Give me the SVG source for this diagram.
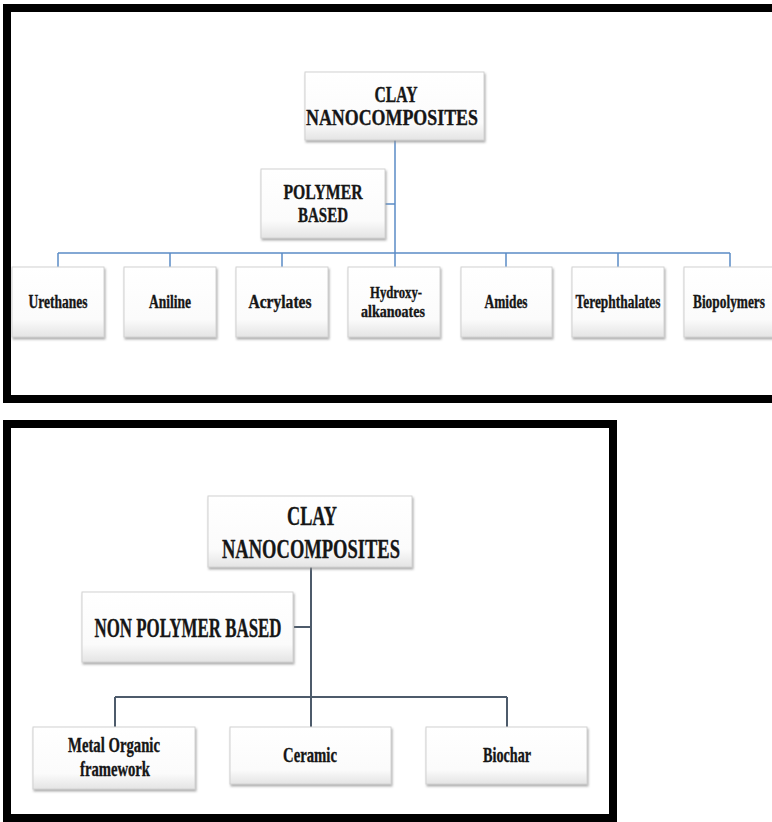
<svg xmlns="http://www.w3.org/2000/svg" width="772" height="822" viewBox="0 0 772 822">
  <defs>
    <linearGradient id="boxg" x1="0" y1="0" x2="0" y2="1">
      <stop offset="0" stop-color="#ffffff"/>
      <stop offset="0.75" stop-color="#fbfbfb"/>
      <stop offset="1" stop-color="#e4e4e4"/>
    </linearGradient>
    <filter id="sh" x="-10%" y="-10%" width="125%" height="130%">
      <feDropShadow dx="1" dy="2" stdDeviation="1" flood-color="#8a8a8a" flood-opacity="0.7"/>
    </filter>
  </defs>
  <style>
    .frame { fill: #ffffff; stroke: #000000; stroke-width: 8; }
    .box { fill: url(#boxg); stroke: #d2d2d2; stroke-width: 1; filter: url(#sh); }
    .t { font-family: "Liberation Serif", "Times New Roman", serif; font-weight: bold; fill: #161616; stroke: #161616; stroke-width: 0.35; text-anchor: middle; }
    .big { font-size: 23px; }
    .big2 { font-size: 27px; }
    .mid { font-size: 21px; }
    .sm { font-size: 18px; }
    .xs { font-size: 17px; }
    .sm2 { font-size: 21px; }
    .c1 { stroke: #5b8cc6; stroke-width: 1.5; fill: none; }
    .c2 { stroke: #4d5b6b; stroke-width: 2; fill: none; }
  </style>
  <rect x="0" y="0" width="772" height="822" fill="#ffffff"/>

  <!-- Frames -->
  <rect class="frame" x="7" y="8" width="800" height="391"/>
  <rect class="frame" x="7" y="424" width="606" height="394"/>

  <!-- Connectors -->
  <g id="connectors">
    <path class="c1" d="M395 140 V267 M385 204 H395 M58 253 H730 M58 253 V267 M170 253 V267 M282 253 V267 M506 253 V267 M618 253 V267 M730 253 V267"/>
    <path class="c2" d="M311 567 V727 M294 627 H311 M115 697 H507 M115 697 V727 M507 697 V727"/>
  </g>

  <!-- Top diagram -->
  <g id="clay1">
    <rect class="box" x="305" y="72" width="179" height="68"/>
    <text class="t big" x="396" y="102" textLength="43" lengthAdjust="spacingAndGlyphs">CLAY</text>
    <text class="t big" x="392" y="125" textLength="172" lengthAdjust="spacingAndGlyphs">NANOCOMPOSITES</text>
  </g>
  <g id="polymer">
    <rect class="box" x="261" y="169" width="124" height="69"/>
    <text class="t mid" x="323" y="199" textLength="79" lengthAdjust="spacingAndGlyphs">POLYMER</text>
    <text class="t mid" x="323" y="222" textLength="50" lengthAdjust="spacingAndGlyphs">BASED</text>
  </g>
  <g id="urethanes">
    <rect class="box" x="12" y="267" width="92" height="70"/>
    <text class="t sm" x="58" y="308" textLength="59" lengthAdjust="spacingAndGlyphs">Urethanes</text>
  </g>
  <g id="aniline">
    <rect class="box" x="124" y="267" width="92" height="70"/>
    <text class="t sm" x="170" y="308" textLength="42" lengthAdjust="spacingAndGlyphs">Aniline</text>
  </g>
  <g id="acrylates">
    <rect class="box" x="236" y="267" width="92" height="70"/>
    <text class="t sm" x="280" y="308" textLength="63" lengthAdjust="spacingAndGlyphs">Acrylates</text>
  </g>
  <g id="hydroxy">
    <rect class="box" x="348" y="267" width="92" height="70"/>
    <text class="t xs" x="396" y="298" textLength="52" lengthAdjust="spacingAndGlyphs">Hydroxy-</text>
    <text class="t xs" x="393" y="317" textLength="64" lengthAdjust="spacingAndGlyphs">alkanoates</text>
  </g>
  <g id="amides">
    <rect class="box" x="461" y="267" width="91" height="70"/>
    <text class="t sm" x="506" y="308" textLength="43" lengthAdjust="spacingAndGlyphs">Amides</text>
  </g>
  <g id="terephthalates">
    <rect class="box" x="572" y="267" width="92" height="70"/>
    <text class="t sm" x="618" y="308" textLength="85" lengthAdjust="spacingAndGlyphs">Terephthalates</text>
  </g>
  <g id="biopolymers">
    <rect class="box" x="684" y="267" width="92" height="70"/>
    <text class="t sm" x="729" y="308" textLength="72" lengthAdjust="spacingAndGlyphs">Biopolymers</text>
  </g>

  <!-- Bottom diagram -->
  <g id="clay2">
    <rect class="box" x="208" y="496" width="204" height="71"/>
    <text class="t big2" x="312" y="525" textLength="50" lengthAdjust="spacingAndGlyphs">CLAY</text>
    <text class="t big2" x="311" y="558" textLength="178" lengthAdjust="spacingAndGlyphs">NANOCOMPOSITES</text>
  </g>
  <g id="nonpolymer">
    <rect class="box" x="82" y="592" width="211" height="70"/>
    <text class="t big2" x="188" y="637" textLength="187" lengthAdjust="spacingAndGlyphs">NON POLYMER BASED</text>
  </g>
  <g id="mof">
    <rect class="box" x="33" y="727" width="162" height="62"/>
    <text class="t sm2" x="114" y="752" textLength="92" lengthAdjust="spacingAndGlyphs">Metal Organic</text>
    <text class="t sm2" x="115" y="776" textLength="70" lengthAdjust="spacingAndGlyphs">framework</text>
  </g>
  <g id="ceramic">
    <rect class="box" x="230" y="727" width="161" height="57"/>
    <text class="t sm2" x="310" y="762" textLength="54" lengthAdjust="spacingAndGlyphs">Ceramic</text>
  </g>
  <g id="biochar">
    <rect class="box" x="426" y="727" width="161" height="57"/>
    <text class="t sm2" x="507" y="762" textLength="48" lengthAdjust="spacingAndGlyphs">Biochar</text>
  </g>
</svg>
